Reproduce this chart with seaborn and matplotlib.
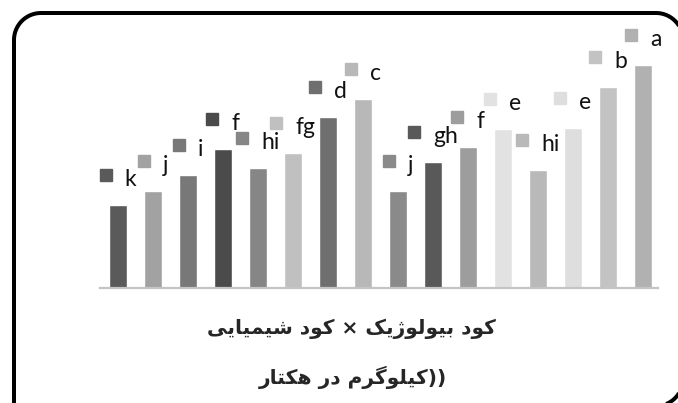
import itertools

import matplotlib
matplotlib.use("Agg")
import matplotlib.pyplot as plt
import numpy as np
from matplotlib.patches import PathPatch
from matplotlib.path import Path
from matplotlib.transforms import Affine2D, ScaledTranslation
import pandas as pd
import seaborn as sns

# Treatment combinations (chemical x biological fertilizer)
treatments = [f"T{i}" for i in range(1, 17)]
yield_values = [83, 97, 113, 139, 120, 135, 171, 189, 97, 126, 141, 159, 118, 160, 201, 223]
mean_groups = ["k", "j", "i", "f", "hi", "fg", "d", "c", "j", "gh", "f", "e", "hi", "e", "b", "a"]
bar_colors = ["#5a5a5a", "#a2a2a2", "#787878", "#4b4b4b", "#868686", "#c0c0c0", "#6f6f6f", "#b8b8b8",
              "#8a8a8a", "#595959", "#9d9d9d", "#e2e2e2", "#b9b9b9", "#dedede", "#c3c3c3", "#b1b1b1"]

axis_title_1 = "کود بیولوژیک × کود شیمیایی"
axis_title_2 = "((کیلوگرم در هکتار"

# Minimal Arabic-script shaping: (isolated, final, initial, medial)
FORMS = {
    "ا": ("\uFE8D", "\uFE8E", None, None),
    "ب": ("\uFE8F", "\uFE90", "\uFE91", "\uFE92"),
    "ت": ("\uFE95", "\uFE96", "\uFE97", "\uFE98"),
    "د": ("\uFEA9", "\uFEAA", None, None),
    "ر": ("\uFEAD", "\uFEAE", None, None),
    "ش": ("\uFEB5", "\uFEB6", "\uFEB7", "\uFEB8"),
    "ل": ("\uFEDD", "\uFEDE", "\uFEDF", "\uFEE0"),
    "م": ("\uFEE1", "\uFEE2", "\uFEE3", "\uFEE4"),
    "ه": ("\uFEE9", "\uFEEA", "\uFEEB", "\uFEEC"),
    "و": ("\uFEED", "\uFEEE", None, None),
    "ژ": ("\uFB8A", "\uFB8B", None, None),
    "ک": ("\uFB8E", "\uFB8F", "\uFB90", "\uFB91"),
    "گ": ("\uFB92", "\uFB93", "\uFB94", "\uFB95"),
    "ی": ("\uFBFC", "\uFBFD", "\uFBFE", "\uFBFF"),
}
MIRROR = {"(": ")", ")": "("}


def shape_run(run):
    out = []
    for i, ch in enumerate(run):
        prev = run[i - 1] if i > 0 else None
        nxt = run[i + 1] if i + 1 < len(run) else None
        iso, fin, ini, med = FORMS[ch]
        join_prev = prev is not None and FORMS[prev][2] is not None
        join_next = ini is not None and nxt is not None
        if join_prev and join_next:
            out.append(med)
        elif join_prev:
            out.append(fin)
        elif join_next:
            out.append(ini)
        else:
            out.append(iso)
    return "".join(out)


def display_line(line):
    """Join letters into their contextual forms and lay the line out right-to-left."""
    parts = []
    for is_ar, grp in itertools.groupby(line, key=lambda c: c in FORMS):
        s = "".join(grp)
        parts.append(shape_run(s) if is_ar else "".join(MIRROR.get(c, c) for c in s))
    return "".join(parts)[::-1]


W_PX, H_PX, DPI = 678, 403, 100
fig = plt.figure(figsize=(W_PX / DPI, H_PX / DPI), dpi=DPI)
sns.set_style("white")

ax = fig.add_axes([100 / W_PX, (H_PX - 288) / H_PX, 558 / W_PX, 268 / H_PX])
df = pd.DataFrame({"treatment": treatments, "value": yield_values})
sns.barplot(data=df, x="treatment", y="value", hue="treatment", palette=bar_colors,
            width=0.5, legend=False, ax=ax, saturation=1)
ax.set_xlim(-0.514, 15.43)
ax.set_ylim(0, 268)
ax.set_xlabel("")
ax.set_ylabel("")
ax.set_xticks([])
ax.set_yticks([])
for side in ["top", "left", "right"]:
    ax.spines[side].set_visible(False)
ax.spines["bottom"].set_color("#c4c4c4")
ax.spines["bottom"].set_linewidth(1.6)

# Data labels: colour key square followed by the mean-comparison letter
texts = []
for i, (v, g) in enumerate(zip(yield_values, mean_groups)):
    t = ax.annotate(g, xy=(i, v), xytext=(0, 19), textcoords="offset pixels",
                    ha="left", va="baseline", fontsize=16.5, family="Lato", color="#111111")
    texts.append(t)

fig.canvas.draw()
renderer = fig.canvas.get_renderer()
key, gap = 12, 13
for i, (v, t, c) in enumerate(zip(yield_values, texts, bar_colors)):
    tw = t.get_window_extent(renderer).width
    total = key + gap + tw
    t.xyann = (-total / 2 + key + gap, 19)
    dx = -total / 2 + key / 2
    shift = ScaledTranslation(dx / DPI, 30.5 / DPI, fig.dpi_scale_trans)
    ax.plot([i], [v], marker="s", markersize=key * 72 / DPI, color=c, linestyle="none",
            transform=ax.transData + shift, clip_on=False)

fig.text(351 / W_PX, 1 - 329 / H_PX, display_line(axis_title_1), ha="center", va="center",
         fontsize=14.5, fontweight="bold", family="DejaVu Sans")
fig.text(353 / W_PX, 1 - 377 / H_PX, display_line(axis_title_2), ha="center", va="center",
         fontsize=14.5, fontweight="bold", family="DejaVu Sans")


# Rounded frame (pixel units, y measured from the top edge)
def corner(cx, cy, r, a0, a1, n=24):
    a = np.radians(np.linspace(a0, a1, n))
    return list(zip(cx + r * np.cos(a), cy + r * np.sin(a)))


r = 27
left, top, right, bottom = 14, 13, 683, 406
pts = [(left, 440)]
pts += corner(left + r, top + r, r, 180, 270)
pts += corner(right - r, top + r, r, 270, 360)
pts += corner(right - r, bottom - r, r, 0, 90)
pts += [(200, bottom + 20)]
pts = [(x, H_PX - y) for x, y in pts]
to_fig = Affine2D().scale(1 / W_PX, 1 / H_PX) + fig.transFigure
frame = PathPatch(Path(pts), transform=to_fig, facecolor="none", edgecolor="black",
                  linewidth=4 * 72 / DPI, capstyle="butt", joinstyle="round", zorder=10)
fig.add_artist(frame)

fig.savefig("out.png", dpi=DPI)
